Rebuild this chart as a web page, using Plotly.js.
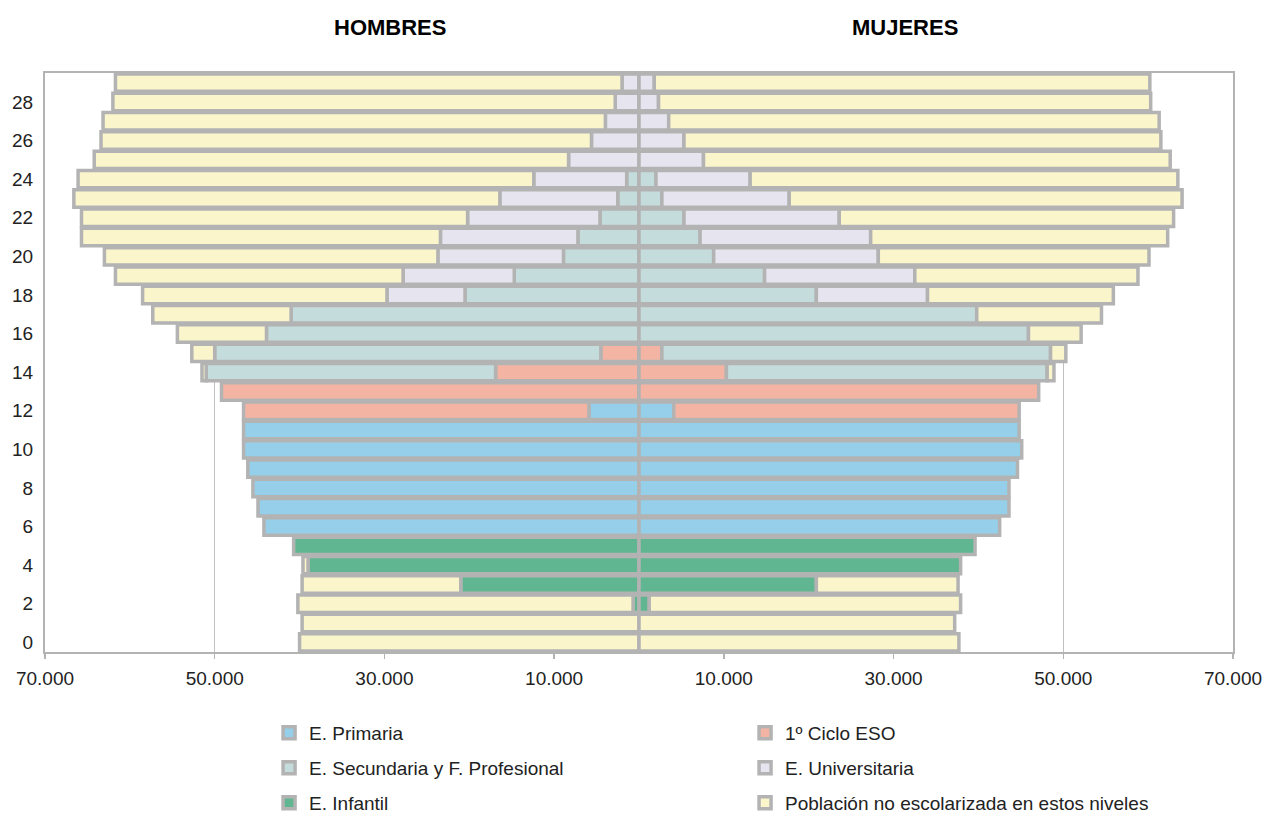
<!DOCTYPE html>
<html>
<head>
<meta charset="utf-8">
<script src="https://cdn.plot.ly/plotly-3.0.1.min.js"></script>
<style>html,body{margin:0;padding:0;background:#fff;}#chart{width:1268px;height:814px;}</style>
</head>
<body>
<div id="chart"></div>
<script>
// Ages (rows)
var ages = [0,1,2,3,4,5,6,7,8,9,10,11,12,13,14,15,16,17,18,19,20,21,22,23,24,25,26,27,28,29];

// HOMBRES (men) by education level
var infantilH      = [0,0,700,21000,39000,40700,0,0,0,0,0,0,0,0,0,0,0,0,0,0,0,0,0,0,0,0,0,0,0,0];
var primariaH      = [0,0,0,0,0,0,44200,44900,45500,46100,46600,46600,5900,0,0,0,0,0,0,0,0,0,0,0,0,0,0,0,0,0];
var esoH           = [0,0,0,0,0,0,0,0,0,0,0,0,40700,49200,16900,4500,0,0,0,0,0,0,0,0,0,0,0,0,0,0];
var secundariaH    = [0,0,0,0,0,0,0,0,0,0,0,0,0,0,34100,45500,43900,41000,20500,14700,8900,7200,4600,2500,1450,0,0,0,0,0];
var universitariaH = [0,0,0,0,0,0,0,0,0,0,0,0,0,0,0,0,0,0,9200,13100,14800,16200,15600,13900,10950,8300,5600,3960,2800,2000];
var noEscH         = [40000,39700,39500,18700,600,0,0,0,0,0,0,0,0,0,500,2700,10500,16300,28800,33900,39300,42300,45500,50200,53700,55900,57800,59200,59200,59700];

// MUJERES (women) by education level
var infantilM      = [0,0,1200,20900,37900,39600,0,0,0,0,0,0,0,0,0,0,0,0,0,0,0,0,0,0,0,0,0,0,0,0];
var primariaM      = [0,0,0,0,0,0,42500,43600,43600,44600,45100,44800,4100,0,0,0,0,0,0,0,0,0,0,0,0,0,0,0,0,0];
var esoM           = [0,0,0,0,0,0,0,0,0,0,0,0,40700,47100,10300,2700,0,0,0,0,0,0,0,0,0,0,0,0,0,0];
var secundariaM    = [0,0,0,0,0,0,0,0,0,0,0,0,0,0,37800,45800,45900,39800,20900,14800,8800,7200,5300,2700,2000,0,0,0,0,0];
var universitariaM = [0,0,0,0,0,0,0,0,0,0,0,0,0,0,0,0,0,0,13100,17700,19400,20100,18300,15000,11100,7600,5300,3500,2300,1800];
var noEscM         = [37700,37200,36700,16700,0,0,0,0,0,0,0,0,0,0,800,1800,6200,14700,21900,26300,31900,35000,39400,46300,50400,55000,56200,57800,58000,58400];

var tickVals = [-70000,-50000,-30000,-10000,10000,30000,50000,70000];
var tickText = ['70.000','50.000','30.000','10.000','10.000','30.000','50.000','70.000'];
var ageTicks = [0,2,4,6,8,10,12,14,16,18,20,22,24,26,28];

var series = [
  {name:'E. Infantil', h:infantilH, m:infantilM, color:'#60b690', legend:'legend3'},
  {name:'E. Primaria', h:primariaH, m:primariaM, color:'#95cfe9', legend:'legend'},
  {name:'1º Ciclo ESO', h:esoH, m:esoM, color:'#f4b4a3', legend:'legend'},
  {name:'E. Secundaria y F. Profesional', h:secundariaH, m:secundariaM, color:'#c5dcdd', legend:'legend2'},
  {name:'E. Universitaria', h:universitariaH, m:universitariaM, color:'#e6e5ef', legend:'legend2'},
  {name:'Población no escolarizada en estos niveles', h:noEscH, m:noEscM, color:'#fbf5cc', legend:'legend3'}
];

var traces = series.map(function(s){
  var xs = s.h.map(function(v){return v ? -v : null;}).concat(s.m.map(function(v){return v ? v : null;}));
  var ys = ages.concat(ages);
  return {
    type:'bar', orientation:'h', name:s.name, x:xs, y:ys,
    marker:{color:s.color, line:{color:'#b3b3b3', width:3.5}},
    legend:s.legend, hoverinfo:'skip'
  };
});

var fontFam = '"Liberation Sans", Arial, sans-serif';
var legendBase = {orientation:'h', xanchor:'left', yanchor:'middle', x:0.1886,
  entrywidth:431, entrywidthmode:'pixels', font:{family:fontFam, size:19, color:'#222'},
  bgcolor:'rgba(0,0,0,0)', borderwidth:0, itemclick:false, itemdoubleclick:false};

var layout = {
  width:1268, height:814,
  margin:{l:45, r:35, t:73, b:162, autoexpand:false},
  paper_bgcolor:'#fff', plot_bgcolor:'#fff',
  barmode:'relative', bargap:0.1,
  font:{family:fontFam, size:19, color:'#222'},
  xaxis:{range:[-70000,70000], tickvals:tickVals, ticktext:tickText,
    showgrid:true, gridcolor:'#c0c0c0', gridwidth:1.5, zeroline:false,
    showline:true, linecolor:'#b3b3b3', linewidth:2, mirror:true,
    ticks:'outside', ticklen:5, tickwidth:1.5, tickcolor:'#b3b3b3', ticklabelstandoff:3,
    tickfont:{family:fontFam, size:19, color:'#222'}, fixedrange:true},
  yaxis:{range:[-0.5,29.5], tickvals:ageTicks, ticktext:ageTicks.map(String),
    showgrid:false, zeroline:false, showline:true, linecolor:'#b3b3b3', linewidth:2, mirror:true,
    ticks:'', ticklabelstandoff:6,
    tickfont:{family:fontFam, size:19, color:'#222'}, fixedrange:true},
  legend:Object.assign({}, legendBase, {y:-0.1399}),
  legend2:Object.assign({}, legendBase, {y:-0.2003}),
  legend3:Object.assign({}, legendBase, {y:-0.2608}),
  annotations:[
    {text:'<b>HOMBRES</b>', xref:'paper', yref:'paper', x:0.2904, y:1.0794, showarrow:false,
     xanchor:'center', yanchor:'middle', font:{family:fontFam, size:22, color:'#000'}},
    {text:'<b>MUJERES</b>', xref:'paper', yref:'paper', x:0.7239, y:1.0794, showarrow:false,
     xanchor:'center', yanchor:'middle', font:{family:fontFam, size:22, color:'#000'}}
  ],
  showlegend:true
};

Plotly.newPlot('chart', traces, layout, {displayModeBar:false, staticPlot:true});
</script>
</body>
</html>
